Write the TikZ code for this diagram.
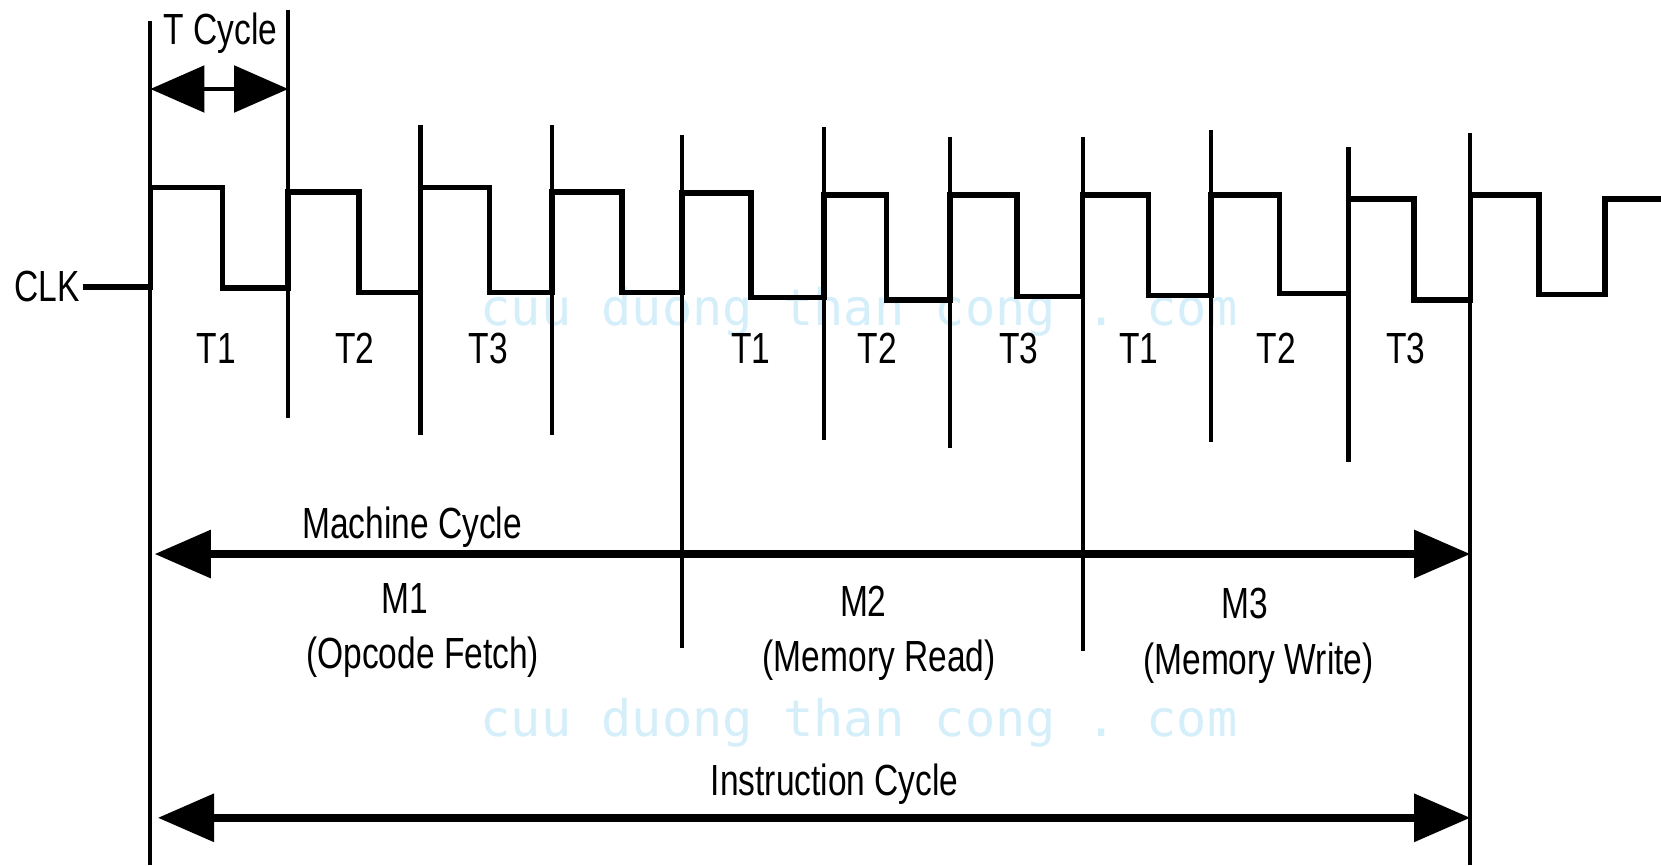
\documentclass[tikz,border=0pt]{standalone}
\usepackage{fontspec}
\setmainfont{Liberation Sans}
\setmonofont{DejaVu Sans Mono}
\usepackage{graphicx}
\usetikzlibrary{arrows.meta}
\definecolor{wmblue}{RGB}{212,238,250}
\newcommand{\tall}[1]{\scalebox{1}[1.3]{#1}}
\tikzstyle{txt} = [font=\fontsize{9}{10}\selectfont, inner sep=0pt, anchor=base]
\tikzstyle{wm} = [font=\ttfamily\fontsize{13.5}{14}\selectfont, text=wmblue, inner sep=0pt, anchor=base west]
\tikzstyle{bound} = [line width=1.1pt]
\tikzstyle{clock} = [line width=1.5pt, line join=miter]
\tikzstyle{tspan} = [line width=0.9pt, {Triangle[length=0.51cm,width=0.44cm]}-{Triangle[length=0.51cm,width=0.44cm]}]
\tikzstyle{mspan} = [line width=2pt, {Triangle[length=0.53cm,width=0.44cm]}-{Triangle[length=0.53cm,width=0.44cm]}]

\begin{document}
\begin{tikzpicture}[x=0.01cm, y=-0.01cm]
\useasboundingbox (0,0) rectangle (1568,817);

% watermark
\node (wm1) [wm] at (453,307) {cuu duong than cong . com};
\node (wm2) [wm] at (453,695) {cuu duong than cong . com};

% T state boundaries
\draw [bound] (142,20) -- (142,817);
\draw [bound] (272,9) -- (272,395);
\draw [bound] (397,118) -- (397,411);
\draw [bound] (521,118) -- (521,411);
\draw [bound] (644,127) -- (644,612);
\draw [bound] (778,120) -- (778,415);
\draw [bound] (897,129) -- (897,423);
\draw [bound] (1022,129) -- (1022,615);
\draw [bound] (1143,123) -- (1143,417);
\draw [bound] (1273,139) -- (1273,436);
\draw [bound] (1388,126) -- (1388,817);

% clock
\node (clk) [txt, anchor=base east] at (76,285) {\tall{CLK}};
\draw [clock] (78,271) -- (142,271) -- (142,177) -- (210,177) -- (210,272) -- (272,272)
  -- (272,181) -- (339,181) -- (339,276) -- (397,276)
  -- (397,177) -- (462,177) -- (462,276) -- (521,276)
  -- (521,181) -- (587,181) -- (587,276) -- (644,276)
  -- (644,182) -- (709,182) -- (709,281) -- (778,281)
  -- (778,184) -- (837,184) -- (837,283) -- (897,283)
  -- (897,184) -- (960,184) -- (960,280) -- (1022,280)
  -- (1022,184) -- (1084,184) -- (1084,279) -- (1143,279)
  -- (1143,184) -- (1208,184) -- (1208,277) -- (1273,277)
  -- (1273,188) -- (1335,188) -- (1335,283) -- (1388,283)
  -- (1388,184) -- (1453,184) -- (1453,278) -- (1515,278)
  -- (1515,188) -- (1568,188);

% T cycle
\node (tcyc) [txt] at (208,42) {\tall{T Cycle}};
\coordinate (tcl) at (142,84);
\coordinate (tcr) at (272,84);
\draw [tspan] (tcl) -- (tcr);

\node (t1a) [txt] at (204,343) {\tall{T1}};
\node (t2a) [txt] at (335,343) {\tall{T2}};
\node (t3a) [txt] at (461,343) {\tall{T3}};
\node (t1b) [txt] at (709,343) {\tall{T1}};
\node (t2b) [txt] at (828,343) {\tall{T2}};
\node (t3b) [txt] at (962,343) {\tall{T3}};
\node (t1c) [txt] at (1075,343) {\tall{T1}};
\node (t2c) [txt] at (1205,343) {\tall{T2}};
\node (t3c) [txt] at (1327,343) {\tall{T3}};

% machine cycles
\node (mcyc) [txt] at (389,508) {\tall{Machine Cycle}};
\coordinate (mcl) at (146,523);
\coordinate (mcr) at (1388,523);
\draw [mspan] (mcl) -- (mcr);

\node (m1) [txt] at (382,579) {\tall{M1}};
\node (m1txt) [txt] at (399,631) {\tall{(Opcode Fetch)}};
\node (m2) [txt] at (815,582) {\tall{M2}};
\node (m2txt) [txt] at (830,634) {\tall{(Memory Read)}};
\node (m3) [txt] at (1175,584) {\tall{M3}};
\node (m3txt) [txt] at (1188,637) {\tall{(Memory Write)}};

% instruction cycle
\node (icyc) [txt] at (788,751) {\tall{Instruction Cycle}};
\coordinate (icl) at (149,772);
\coordinate (icr) at (1388,772);
\draw [mspan] (icl) -- (icr);

\end{tikzpicture}
\end{document}
